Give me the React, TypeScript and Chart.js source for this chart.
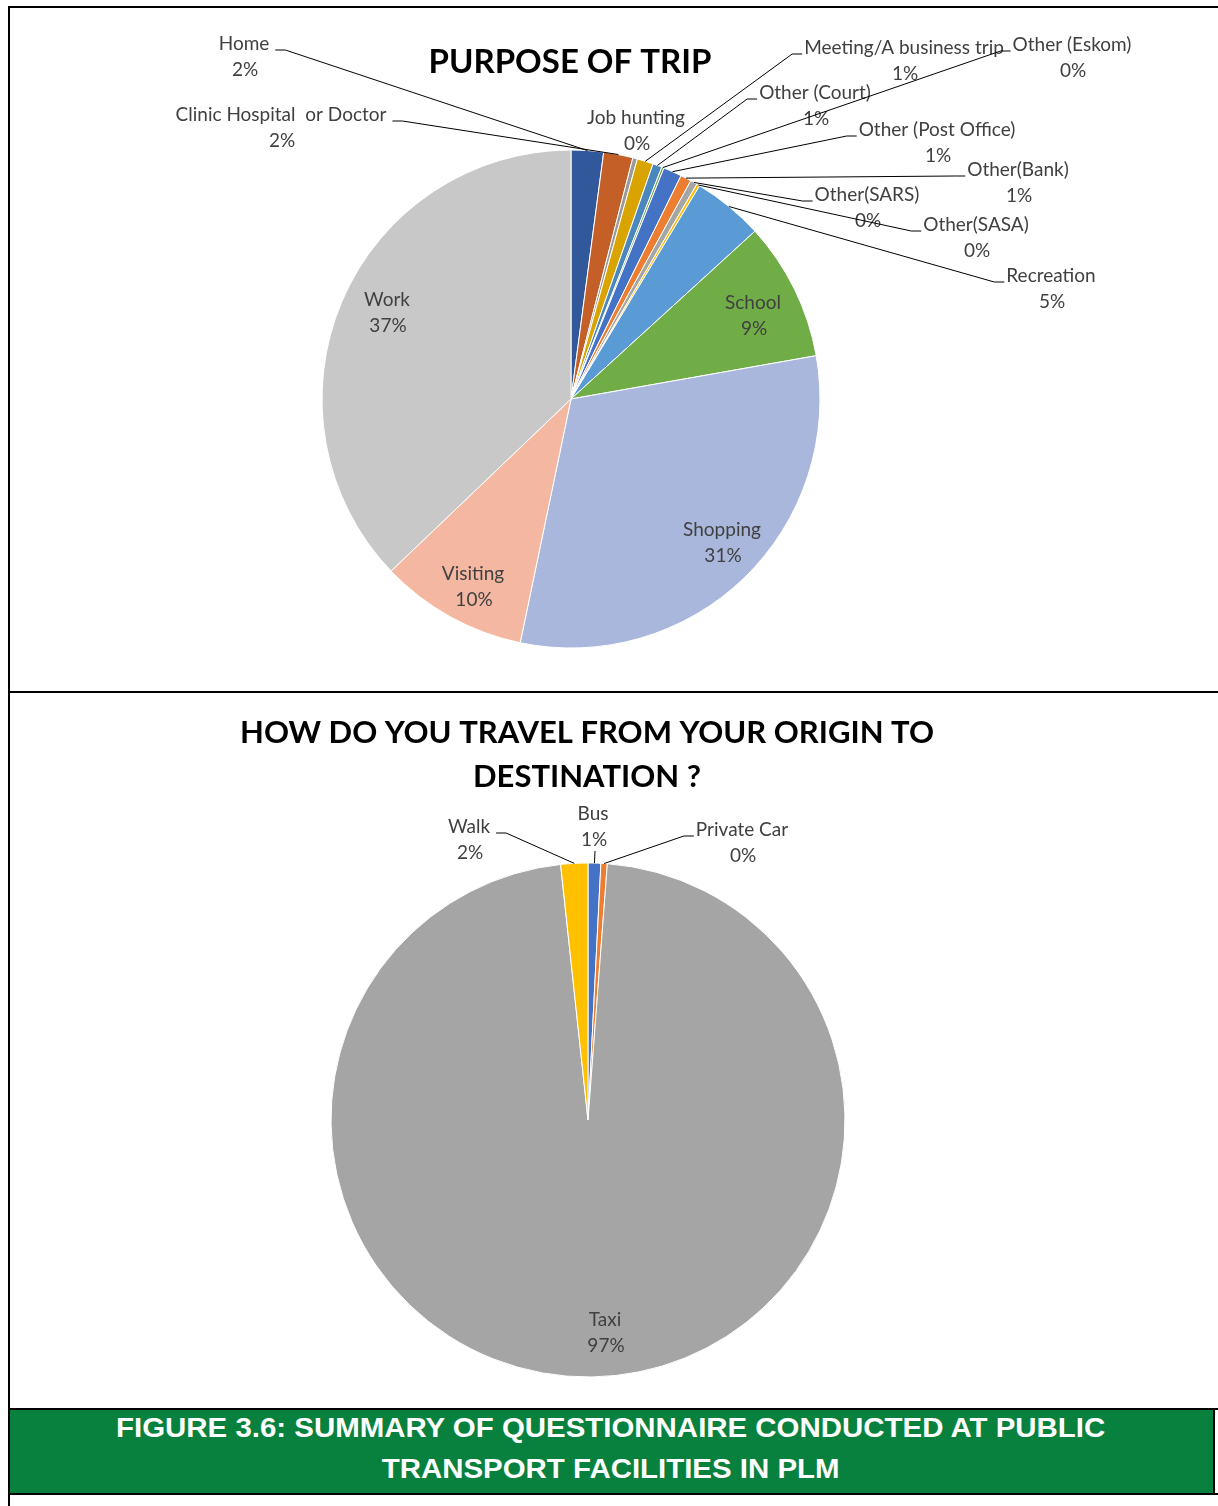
import React, { useEffect, useRef } from "react";
import { Chart, registerables } from "chart.js";
Chart.register(...registerables);

// ---------- DATA ----------
const tripTitle = "PURPOSE OF TRIP";
const tripCategories = [
  "Home",
  "Clinic Hospital  or Doctor",
  "Job hunting",
  "Meeting/A business trip",
  "Other (Court)",
  "Other (Eskom)",
  "Other (Post Office)",
  "Other(Bank)",
  "Other(SARS)",
  "Other(SASA)",
  "Recreation",
  "School",
  "Shopping",
  "Visiting",
  "Work",
];
const tripValues = [2.1, 1.9, 0.3, 1.05, 0.6, 0.15, 1.2, 0.7, 0.45, 0.2, 4.6, 9.0, 31.1, 9.6, 37.2];
const tripColors = [
  "#31589B", "#C55F28", "#9A9A9A", "#D9A400", "#4A87BE", "#6EA846", "#4472C4",
  "#ED7D31", "#A5A5A5", "#FFC000", "#5B9BD5", "#70AD47", "#A9B7DC", "#F4B8A2", "#C8C8C8",
];

const travelTitle = ["HOW DO YOU TRAVEL FROM YOUR ORIGIN TO", "DESTINATION ?"];
const travelCategories = ["Bus", "Private Car", "Taxi", "Walk"];
const travelValues = [0.8, 0.4, 97.1, 1.7];
const travelColors = ["#4472C4", "#ED7D31", "#A5A5A5", "#FFC000"];

const captionLines = [
  "FIGURE 3.6: SUMMARY OF QUESTIONNAIRE CONDUCTED AT PUBLIC",
  "TRANSPORT FACILITIES IN PLM",
];

// ---------- LABEL LAYOUT (page coordinates of label text centres) ----------
// side: where the leader line attaches: "L" left of text, "R" right of text, "B" below, "N" none, "I" inside
type LabelPos = { x: number; y: number; side: string };
const tripLabelLayout: LabelPos[] = [
  { x: 244, y: 44, side: "R" },
  { x: 281, y: 115, side: "R" },
  { x: 636, y: 118, side: "N" },
  { x: 904, y: 48, side: "L" },
  { x: 815, y: 93, side: "L" },
  { x: 1072, y: 45, side: "L" },
  { x: 937, y: 130, side: "L" },
  { x: 1018, y: 170, side: "L" },
  { x: 867, y: 195, side: "L" },
  { x: 976, y: 225, side: "L" },
  { x: 1051, y: 276, side: "L" },
  { x: 753, y: 303, side: "I" },
  { x: 722, y: 530, side: "I" },
  { x: 473, y: 574, side: "I" },
  { x: 387, y: 300, side: "I" },
];
const travelLabelLayout: LabelPos[] = [
  { x: 593, y: 814, side: "B" },
  { x: 742, y: 830, side: "L" },
  { x: 605, y: 1320, side: "I" },
  { x: 469, y: 827, side: "R" },
];

const LABEL_FONT = "19px Lato, 'Open Sans', sans-serif";
const LABEL_COLOR = "#404040";

function makeLabelPlugin(
  layout: LabelPos[],
  names: string[],
  values: number[],
  origin: { x: number; y: number },
  titleLines: string[],
  titlePos: { x: number; y: number; gap: number; font: string }
) {
  return {
    id: "customLabels",
    afterDatasetsDraw(chart: any) {
      const ctx = chart.ctx as CanvasRenderingContext2D;
      const meta = chart.getDatasetMeta(0);
      const total = values.reduce((a, b) => a + b, 0);
      ctx.save();
      // title
      ctx.font = titlePos.font;
      ctx.fillStyle = "#000";
      ctx.textAlign = "center";
      ctx.textBaseline = "middle";
      titleLines.forEach((t, i) => {
        ctx.fillText(t, titlePos.x - origin.x, titlePos.y - origin.y + i * titlePos.gap);
      });
      ctx.font = LABEL_FONT;
      meta.data.forEach((arc: any, i: number) => {
        const p = arc.getProps(["x", "y", "startAngle", "endAngle", "outerRadius"], true);
        const mid = (p.startAngle + p.endAngle) / 2;
        const ex = p.x + Math.cos(mid) * p.outerRadius;
        const ey = p.y + Math.sin(mid) * p.outerRadius;
        const lp = layout[i];
        const lx = lp.x - origin.x;
        const ly = lp.y - origin.y;
        const pct = Math.round((values[i] / total) * 100) + "%";
        const name = names[i];
        const w = ctx.measureText(name).width;
        // leader line
        ctx.strokeStyle = "#000";
        ctx.lineWidth = 1;
        if (lp.side === "L" || lp.side === "R") {
          const sy = ly + 6;
          const sx = lp.side === "L" ? lx - w / 2 - 2 : lx + w / 2 + 6;
          const hx = lp.side === "L" ? sx - 10 : sx + 10;
          ctx.beginPath();
          ctx.moveTo(sx, sy);
          ctx.lineTo(hx, sy);
          ctx.lineTo(ex, ey);
          ctx.stroke();
        } else if (lp.side === "B") {
          ctx.beginPath();
          ctx.moveTo(lx + 2, ly + 37);
          ctx.lineTo(ex, ey);
          ctx.stroke();
        }
        ctx.fillStyle = LABEL_COLOR;
        ctx.fillText(name, lx, ly);
        ctx.fillText(pct, lx + 1, ly + 26);
      });
      ctx.restore();
    },
  };
}

function PieCanvas(props: {
  names: string[];
  values: number[];
  colors: string[];
  layout: LabelPos[];
  origin: { x: number; y: number };
  width: number;
  height: number;
  center: { x: number; y: number };
  radius: number;
  titleLines: string[];
  titlePos: { x: number; y: number; gap: number; font: string };
}) {
  const ref = useRef<HTMLCanvasElement | null>(null);
  useEffect(() => {
    if (!ref.current) return;
    const { width, height, origin, center, radius } = props;
    const cx = center.x - origin.x;
    const cy = center.y - origin.y;
    const half = radius + 2;
    const chart = new Chart(ref.current, {
      type: "pie",
      data: {
        labels: props.names,
        datasets: [
          {
            data: props.values,
            backgroundColor: props.colors,
            borderColor: "#ffffff",
            borderWidth: 1,
          },
        ],
      },
      options: {
        responsive: false,
        animation: false,
        devicePixelRatio: 1,
        radius: radius,
        layout: {
          padding: {
            left: cx - half,
            right: width - (cx + half),
            top: cy - half,
            bottom: height - (cy + half),
          },
        },
        plugins: {
          legend: { display: false },
          tooltip: { enabled: false },
          title: { display: false },
        },
      } as any,
      plugins: [
        makeLabelPlugin(props.layout, props.names, props.values, props.origin, props.titleLines, props.titlePos),
      ],
    });
    return () => chart.destroy();
  }, []);
  return (
    <canvas
      ref={ref}
      width={props.width}
      height={props.height}
      style={{
        position: "absolute",
        left: props.origin.x,
        top: props.origin.y,
        width: props.width,
        height: props.height,
      }}
    />
  );
}

const line = (left: number, top: number, width: number, height: number, bg = "#000") => (
  <div style={{ position: "absolute", left, top, width, height, background: bg }} />
);

export default function App() {
  return (
    <div style={{ position: "absolute", left: 0, top: 0, width: 1218, height: 1506, background: "#fff", overflow: "hidden" }}>
      <PieCanvas
        names={tripCategories}
        values={tripValues}
        colors={tripColors}
        layout={tripLabelLayout}
        origin={{ x: 10, y: 8 }}
        width={1208}
        height={683}
        center={{ x: 571, y: 399 }}
        radius={249}
        titleLines={[tripTitle]}
        titlePos={{ x: 570, y: 62, gap: 0, font: "bold 33px Lato, 'Open Sans', sans-serif" }}
      />
      <PieCanvas
        names={travelCategories}
        values={travelValues}
        colors={travelColors}
        layout={travelLabelLayout}
        origin={{ x: 10, y: 693 }}
        width={1208}
        height={715}
        center={{ x: 588, y: 1120 }}
        radius={257}
        titleLines={travelTitle}
        titlePos={{ x: 587, y: 733, gap: 44, font: "bold 31px Lato, 'Open Sans', sans-serif" }}
      />
      {line(8, 6, 1210, 2)}
      {line(8, 6, 2, 1500)}
      {line(8, 691, 1210, 2)}
      {line(10, 1410, 1203, 83, "#07813D")}
      {line(8, 1408, 1210, 2)}
      {line(8, 1493, 1210, 2)}
      {line(1213, 1408, 2, 87)}
      <div
        style={{
          position: "absolute",
          left: 10,
          top: 1408,
          width: 1203,
          textAlign: "center",
          color: "#fff",
          fontFamily: "'Liberation Sans', Arial, sans-serif",
          fontWeight: "bold",
          fontSize: 27,
          lineHeight: "41px",
          transform: "scaleX(1.09)",
          transformOrigin: "611px 0px",
        }}
      >
        {captionLines.map((t, i) => (
          <div key={i}>{t}</div>
        ))}
      </div>
    </div>
  );
}
